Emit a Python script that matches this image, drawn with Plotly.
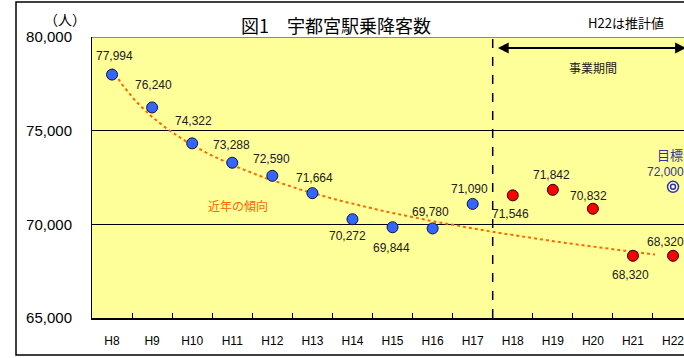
import numpy as np
import plotly.graph_objects as go

# 年度カテゴリ
years = ["H8", "H9", "H10", "H11", "H12", "H13", "H14", "H15",
         "H16", "H17", "H18", "H19", "H20", "H21", "H22"]
# 実績（事業前）
past_years = ["H8", "H9", "H10", "H11", "H12", "H13", "H14", "H15", "H16", "H17"]
past_values = [77994, 76240, 74322, 73288, 72590, 71664, 70272, 69844, 69780, 71090]
# 事業期間中
period_years = ["H18", "H19", "H20", "H21", "H22"]
period_values = [71546, 71842, 70832, 68320, 68320]
# 目標値
target_year = "H22"
target_value = 72000

# ラベルのずれ（px, 上が正）
past_label_dy = [19, 22, 22, 18, 17, 15, -17, -21, 16, 15]
past_label_dx = [2, 1, 1, -1, -1, 2, -5, -1, -2, -3]
period_label_dy = [-19, 15, 13, -19, 14]
period_label_dx = [-2, -1, -4, -2, -8]

W, H = 684, 358
L, R, T, B = 92, 0, 37, 40
PW, PH = W - L - R, H - T - B
Y0, Y1 = 65000, 80000


def px_x(px):
    return (px - L) / PW


def px_y(py):
    return (H - B - py) / PH


def px_to_val(py):
    return Y0 + px_y(py) * (Y1 - Y0)


idx = {c: i for i, c in enumerate(years)}
xp = [idx[c] for c in past_years]
xq = [idx[c] for c in period_years]

NUM = "Liberation Sans, Arial, sans-serif"
JP = "Noto Sans CJK JP, sans-serif"

fig = go.Figure()

# 近年の傾向（対数近似）
b, a = np.polyfit(np.log(np.arange(1, len(past_values) + 1)), past_values, 1)
tx = np.linspace(1, 14.55, 200)
fig.add_trace(go.Scatter(
    x=tx - 1, y=a + b * np.log(tx), mode="lines",
    line=dict(color="#FF6600", width=2, dash="dot"),
    hoverinfo="skip", showlegend=False))

fig.add_trace(go.Scatter(
    x=xp, y=past_values, mode="markers",
    marker=dict(size=11, color="#3366FF", line=dict(color="#101040", width=1)),
    showlegend=False))

fig.add_trace(go.Scatter(
    x=xq, y=period_values, mode="markers",
    marker=dict(size=11, color="#FF0000", line=dict(color="#200000", width=1)),
    showlegend=False))

# 目標（二重丸）
for s in (11, 5):
    fig.add_trace(go.Scatter(
        x=[idx[target_year]], y=[target_value], mode="markers",
        marker=dict(size=s, color="white", line=dict(color="#333399", width=1.5)),
        showlegend=False))


def label(**kw):
    kw.setdefault("showarrow", False)
    kw.setdefault("xanchor", "center")
    kw.setdefault("yanchor", "middle")
    ann.append(kw)


ann = []
for x, v, dx, dy in zip(xp, past_values, past_label_dx, past_label_dy):
    label(x=x, y=v, text=f"{v:,}", xshift=dx, yshift=dy,
          font=dict(family=NUM, size=12, color="#202020"))
for x, v, dx, dy in zip(xq, period_values, period_label_dx, period_label_dy):
    label(x=x, y=v, text=f"{v:,}", xshift=dx, yshift=dy,
          font=dict(family=NUM, size=12, color="#202020"))
label(x=idx[target_year], y=target_value, text=f"{target_value:,}",
      yshift=15, xshift=-8, font=dict(family=NUM, size=12, color="#333399"))
label(x=idx[target_year], y=target_value, text="目標",
      yshift=32, xshift=-3, font=dict(family=JP, size=13, color="#333399"))

# 事業期間の矢印
arrow_y = px_to_val(48)
ann.append(dict(x=9.63, y=arrow_y, xref="x", yref="y",
                ax=14.36, ay=arrow_y, axref="x", ayref="y",
                text="", showarrow=True, arrowside="end+start",
                arrowhead=2, arrowsize=1.2, arrowwidth=1.8, arrowcolor="black"))
label(x=px_x(593), y=px_y(67), xref="paper", yref="paper", text="事業期間",
      font=dict(family=JP, size=12, color="#202020"))
label(x=px_x(238), y=px_y(205), xref="paper", yref="paper", text="近年の傾向",
      font=dict(family=JP, size=12, color="#FF6600"))

# 見出し類
label(x=px_x(336), y=px_y(25), xref="paper", yref="paper",
      text="図1　宇都宮駅乗降客数", font=dict(family=JP, size=18, color="black"))
label(x=px_x(626), y=px_y(22), xref="paper", yref="paper",
      text="H22は推計値", font=dict(family=JP, size=13, color="black"))
label(x=px_x(65), y=px_y(19), xref="paper", yref="paper",
      text="（人）", font=dict(family=JP, size=14, color="black"))

shapes = [
    # 外枠
    dict(type="rect", xref="paper", yref="paper",
         x0=px_x(16), x1=px_x(720), y0=px_y(355), y1=px_y(2),
         line=dict(color="black", width=1.5), layer="below"),
    # 上端
    dict(type="line", xref="paper", yref="y", x0=0, x1=1, y0=Y1, y1=Y1,
         line=dict(color="#888888", width=2)),
    # 事業期間の区切り
    dict(type="line", xref="x", yref="paper", x0=9.5, x1=9.5, y0=0, y1=1,
         line=dict(color="black", width=1.5, dash="dash")),
]

fig.update_layout(
    width=W, height=H,
    margin=dict(l=L, r=R, t=T, b=B),
    paper_bgcolor="white", plot_bgcolor="#FFFF99",
    annotations=ann, shapes=shapes,
    xaxis=dict(range=[-0.5, -0.5 + PW / 40.07], tickvals=list(range(len(years))),
               ticktext=years, ticks="", showgrid=False, zeroline=False,
               showline=True, linecolor="black", linewidth=1.5,
               ticklabelstandoff=11, ticklabeloverflow="allow",
               tickfont=dict(family=NUM, size=12, color="black"),
               minor=dict(tickvals=[i + 0.5 for i in range(len(years))],
                          ticks="inside", ticklen=5, tickcolor="black",
                          tickwidth=1, showgrid=False)),
    yaxis=dict(range=[Y0, Y1], tickvals=[65000, 70000, 75000, 80000],
               tickformat=",", showgrid=True, gridcolor="black", gridwidth=1,
               zeroline=False, showline=True, linecolor="black", linewidth=1,
               ticks="", ticklabelstandoff=16,
               tickfont=dict(family=NUM, size=15, color="black")),
)

fig.write_html("out.html")
